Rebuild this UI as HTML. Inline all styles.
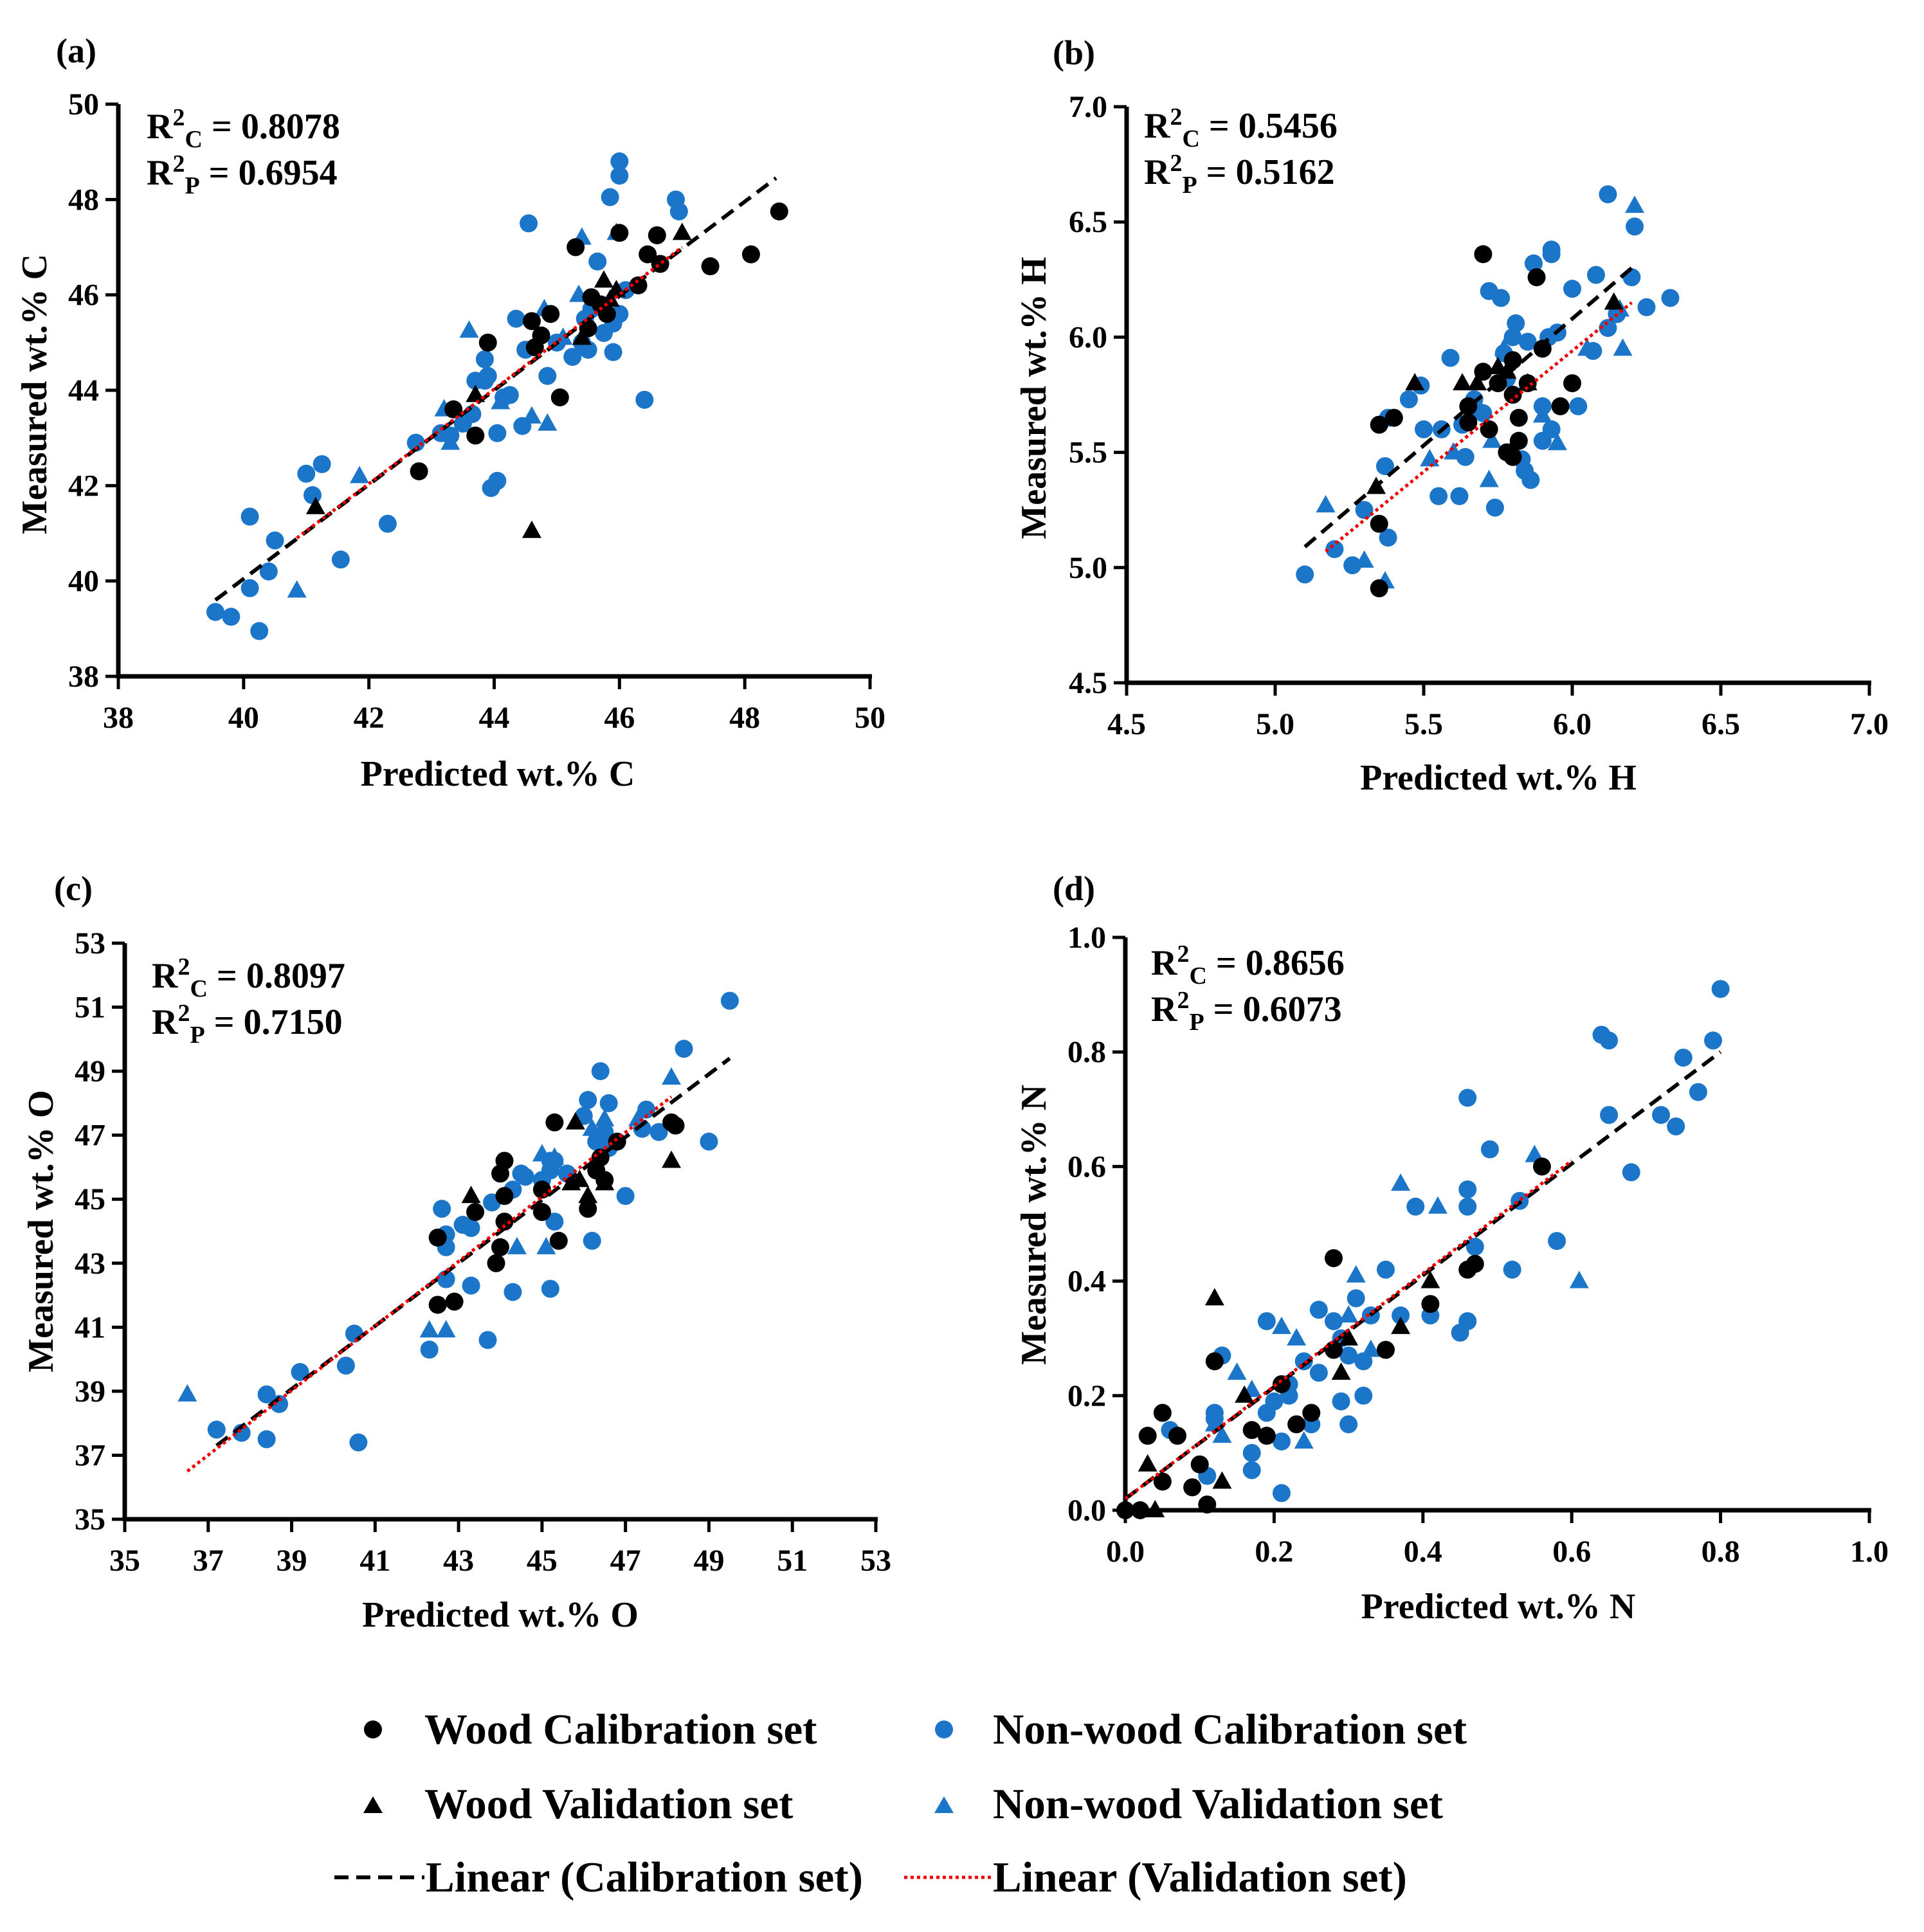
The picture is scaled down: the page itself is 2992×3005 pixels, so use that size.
<!DOCTYPE html>
<html><head><meta charset="utf-8">
<style>
html,body{margin:0;padding:0;background:#fff;}
svg{display:block;font-family:"Liberation Serif","Times New Roman",serif;font-weight:bold;}
</style></head>
<body>
<svg id="fig" width="2992" height="3005" viewBox="0 0 2992 3005" xmlns="http://www.w3.org/2000/svg">
<rect width="2992" height="3005" fill="#fff"/>
<g id="legend">
  <g>
    <circle cx="580" cy="2690" r="14" fill="#000"/>
    <text x="660" y="2712" font-size="67">Wood Calibration set</text>
  </g>
  <g>
    <circle cx="1468" cy="2690" r="14" fill="#1b75c9"/>
    <text x="1544" y="2712" font-size="67">Non-wood Calibration set</text>
  </g>
  <g>
    <polygon points="580,2794 595,2820 565,2820" fill="#000"/>
    <text x="660" y="2828" font-size="67">Wood Validation set</text>
  </g>
  <g>
    <polygon points="1468,2794 1483,2820 1453,2820" fill="#1b75c9"/>
    <text x="1544" y="2828" font-size="67">Non-wood Validation set</text>
  </g>
  <g>
    <line x1="520" y1="2920" x2="660" y2="2920" stroke="#000" stroke-width="6" stroke-dasharray="22,12"/>
    <text x="662" y="2942" font-size="67">Linear (Calibration set)</text>
  </g>
  <g>
    <line x1="1406" y1="2920" x2="1541" y2="2920" stroke="#e00" stroke-width="5" stroke-dasharray="5,5"/>
    <text x="1544" y="2942" font-size="67">Linear (Validation set)</text>
  </g>
</g>
</svg>
<script>
// ---------- Panel (a) Carbon ----------
const aTicksX = [38,40,42,44,46,48,50];
const aTicksY = [38,40,42,44,46,48,50];
const aWoodCal = [[48.55,47.75],[48.1,46.85],[47.45,46.6],[46.6,47.25],[46.45,46.85],[46.3,46.2],[46.65,46.65],[46.0,47.3],[45.3,47.0],[45.55,45.95],[45.8,45.6],[45.5,45.3],[44.6,45.45],[44.75,45.15],[44.9,45.6],[44.65,44.9],[45.05,43.85],[43.9,45.0],[43.35,43.6],[43.7,43.05],[42.8,42.3],[45.7,45.8]];
const aWoodVal = [[47.0,47.3],[45.75,46.3],[45.95,46.1],[45.4,45.1],[43.7,43.9],[41.15,41.55],[44.6,41.05],[45.85,45.9]];
const aNonCal = [[39.55,39.35],[39.8,39.25],[40.25,38.95],[40.1,39.85],[40.4,40.2],[40.5,40.85],[40.1,41.35],[41.0,42.25],[41.1,41.8],[41.25,42.45],[41.55,40.45],[42.3,41.2],[42.75,42.9],[43.15,43.1],[43.3,43.05],[43.5,43.3],[43.65,43.5],[43.7,44.2],[43.85,44.65],[43.85,44.2],[43.9,44.3],[44.05,43.1],[44.05,42.1],[43.95,41.95],[44.15,43.85],[44.25,43.9],[44.35,45.5],[44.5,44.85],[44.85,44.3],[44.45,43.25],[44.55,47.5],[45.0,45.0],[45.25,44.7],[45.4,45.0],[45.5,44.85],[45.45,45.5],[45.55,45.7],[45.75,45.2],[45.9,45.4],[45.9,44.8],[46.0,45.6],[46.1,46.1],[45.65,46.7],[45.85,48.05],[46.0,48.5],[46.0,48.8],[46.4,43.8],[46.9,48.0],[46.95,47.75]];
const aNonVal = [[40.85,39.8],[41.85,42.2],[43.2,43.6],[43.3,42.9],[43.6,45.25],[44.1,43.75],[44.6,43.45],[44.8,45.7],[44.85,43.3],[45.35,46.0],[45.4,47.2],[45.95,47.3],[45.1,45.1]];
const aCalLine = [[39.55,39.6],[48.5,48.45]];
const aValLine = [[40.85,40.9],[47.0,47.0]];

// ---------- Panel (b) Hydrogen ----------
const bTicksX = [4.5,5.0,5.5,6.0,6.5,7.0];
const bTicksY = [4.5,5.0,5.5,6.0,6.5,7.0];
const bWoodCal = [[5.35,4.91],[5.35,5.19],[5.35,5.62],[5.4,5.65],[5.7,6.36],[5.7,5.85],[5.75,5.8],[5.65,5.63],[5.65,5.7],[5.8,5.75],[5.8,5.9],[5.78,5.5],[5.8,5.48],[5.82,5.55],[5.82,5.65],[5.88,6.26],[5.9,5.95],[5.96,5.7],[6.0,5.8],[5.85,5.8],[5.72,5.6]];
const bWoodVal = [[5.34,5.35],[5.47,5.8],[5.63,5.8],[5.68,5.8],[5.75,5.87],[5.85,5.8],[6.14,6.15],[5.78,5.85]];
const bNonCal = [[5.1,4.97],[5.2,5.08],[5.26,5.01],[5.3,5.25],[5.38,5.13],[5.37,5.44],[5.38,5.65],[5.45,5.73],[5.49,5.79],[5.5,5.6],[5.55,5.31],[5.56,5.6],[5.59,5.91],[5.62,5.31],[5.63,5.62],[5.64,5.48],[5.67,5.73],[5.68,5.68],[5.7,5.67],[5.72,6.2],[5.74,5.26],[5.76,6.17],[5.77,5.93],[5.8,6.0],[5.81,6.06],[5.83,5.47],[5.84,5.42],[5.86,5.38],[5.87,6.32],[5.85,5.98],[5.9,5.55],[5.9,5.7],[5.92,6.0],[5.93,5.6],[5.93,6.36],[5.93,6.38],[6.0,6.21],[6.02,5.7],[6.07,5.94],[6.08,6.27],[6.12,6.62],[6.12,6.04],[6.15,6.1],[6.2,6.26],[6.21,6.48],[6.25,6.13],[6.33,6.17],[5.78,5.82],[5.95,6.02]];
const bNonVal = [[5.17,5.27],[5.3,5.03],[5.37,4.94],[5.52,5.47],[5.6,5.5],[5.72,5.38],[5.73,5.55],[5.77,5.95],[5.8,5.52],[5.9,5.66],[5.95,5.54],[6.05,5.95],[6.17,5.95],[6.21,6.57],[6.16,6.12]];
const bCalLine = [[5.1,5.09],[6.2,6.3]];
const bValLine = [[5.17,5.07],[6.2,6.15]];

// ---------- Panel (c) Oxygen ----------
const cTicksX = [35,37,39,41,43,45,47,49,51,53];
const cTicksY = [35,37,39,41,43,45,47,49,51,53];
const cWoodCal = [[42.5,41.7],[42.5,43.8],[42.9,41.8],[43.4,44.6],[43.9,43.0],[44.0,45.8],[44.1,46.2],[44.1,44.3],[44.0,43.5],[44.1,45.1],[45.0,45.3],[45.0,44.6],[45.3,47.4],[45.4,43.7],[46.1,44.7],[46.3,45.9],[46.4,46.3],[46.8,46.8],[48.1,47.4],[48.2,47.3],[46.5,45.6]];
const cWoodVal = [[43.3,45.1],[45.7,45.5],[45.8,47.4],[46.1,45.1],[46.5,45.5],[48.1,46.2],[45.9,45.6]];
const cNonCal = [[37.2,37.8],[37.8,37.7],[38.4,38.9],[38.4,37.5],[38.7,38.6],[39.2,39.6],[40.3,39.8],[40.5,40.8],[40.6,37.4],[42.3,40.3],[42.6,44.7],[42.7,43.5],[42.7,42.5],[42.7,43.9],[43.1,44.2],[43.3,42.3],[43.3,44.1],[43.7,40.6],[43.8,44.9],[44.3,42.1],[44.3,45.3],[44.5,45.8],[44.6,45.7],[45.0,45.6],[45.2,45.9],[45.2,42.2],[45.3,44.3],[45.2,46.2],[45.6,45.8],[46.1,48.1],[46.2,43.7],[46.3,46.8],[46.4,49.0],[46.5,47.1],[46.6,48.0],[46.6,46.6],[47.0,45.1],[47.4,47.2],[47.5,47.8],[47.8,47.1],[48.4,49.7],[49.0,46.8],[49.5,51.2],[46.0,47.6],[45.3,46.2]];
const cNonVal = [[36.5,38.9],[42.3,40.9],[42.7,40.9],[44.4,43.5],[45.1,43.5],[45.0,46.4],[46.2,47.2],[46.5,47.5],[47.3,47.5],[48.1,48.8],[45.3,46.3]];
const cCalLine = [[37.2,37.3],[49.5,49.4]];
const cValLine = [[36.5,36.5],[48.1,48.2]];

// ---------- Panel (d) Nitrogen ----------
const dTicksX = [0.0,0.2,0.4,0.6,0.8,1.0];
const dTicksY = [0.0,0.2,0.4,0.6,0.8,1.0];
const dWoodCal = [[0.0,0.0],[0.02,0.0],[0.03,0.13],[0.05,0.05],[0.05,0.17],[0.07,0.13],[0.09,0.04],[0.1,0.08],[0.11,0.01],[0.12,0.26],[0.17,0.14],[0.19,0.13],[0.21,0.22],[0.23,0.15],[0.25,0.17],[0.28,0.28],[0.28,0.44],[0.35,0.28],[0.41,0.36],[0.46,0.42],[0.47,0.43],[0.56,0.6]];
const dWoodVal = [[0.03,0.08],[0.04,0.0],[0.12,0.37],[0.13,0.05],[0.16,0.2],[0.29,0.24],[0.37,0.32],[0.41,0.4],[0.3,0.3]];
const dNonCal = [[0.06,0.14],[0.11,0.06],[0.12,0.16],[0.12,0.17],[0.13,0.27],[0.17,0.1],[0.17,0.07],[0.19,0.33],[0.19,0.17],[0.2,0.19],[0.21,0.03],[0.21,0.12],[0.22,0.22],[0.22,0.2],[0.24,0.26],[0.25,0.15],[0.26,0.24],[0.26,0.35],[0.28,0.33],[0.29,0.19],[0.29,0.3],[0.3,0.15],[0.3,0.27],[0.31,0.37],[0.32,0.2],[0.32,0.26],[0.33,0.34],[0.35,0.42],[0.37,0.34],[0.39,0.53],[0.41,0.34],[0.45,0.31],[0.46,0.56],[0.46,0.33],[0.46,0.72],[0.47,0.46],[0.49,0.63],[0.52,0.42],[0.53,0.54],[0.58,0.47],[0.64,0.83],[0.65,0.69],[0.65,0.82],[0.68,0.59],[0.72,0.69],[0.74,0.67],[0.75,0.79],[0.77,0.73],[0.79,0.82],[0.8,0.91],[0.46,0.53]];
const dNonVal = [[0.12,0.15],[0.13,0.13],[0.15,0.24],[0.17,0.21],[0.21,0.32],[0.23,0.3],[0.24,0.12],[0.3,0.34],[0.31,0.41],[0.37,0.57],[0.42,0.53],[0.55,0.62],[0.61,0.4],[0.33,0.28]];
const dCalLine = [[0.0,0.02],[0.8,0.8]];
const dValLine = [[0.0,0.02],[0.6,0.61]];

const NS = "http://www.w3.org/2000/svg";
const svg = document.getElementById("fig");
const BLUE = "#1b75c9";

function mk(tag, attrs, parent) {
  const el = document.createElementNS(NS, tag);
  for (const k in attrs) el.setAttribute(k, attrs[k]);
  parent.appendChild(el);
  return el;
}

function panel(cfg) {
  const g = mk("g", {}, svg);
  
  
  const xs = v => cfg.x0 + (v - cfg.xmin) / (cfg.xmax - cfg.xmin) * (cfg.x1 - cfg.x0);
  const ys = v => cfg.y0 - (v - cfg.ymin) / (cfg.ymax - cfg.ymin) * (cfg.y0 - cfg.y1);

  const ax = mk("g", {}, g);
  
  
  mk("line", {x1: cfg.x0, y1: cfg.y0, x2: cfg.x1 + 3, y2: cfg.y0, stroke: "#000", "stroke-width": 7}, ax);
  mk("line", {x1: cfg.x0, y1: cfg.y0 + 3, x2: cfg.x0, y2: cfg.y1, stroke: "#000", "stroke-width": 7}, ax);
  cfg.tx.forEach(t => {
    const x = xs(t);
    mk("line", {x1: x, y1: cfg.y0, x2: x, y2: cfg.y0 + 20, stroke: "#000", "stroke-width": 5}, ax);
    const tl = mk("text", {x: x, y: cfg.y0 + 80, "font-size": 48, "text-anchor": "middle"}, ax);
    
    
    tl.textContent = t.toFixed(cfg.dec);
  });
  cfg.ty.forEach(t => {
    const y = ys(t);
    mk("line", {x1: cfg.x0 - 20, y1: y, x2: cfg.x0, y2: y, stroke: "#000", "stroke-width": 5}, ax);
    const tl = mk("text", {x: cfg.x0 - 30, y: y + 16, "font-size": 48, "text-anchor": "end"}, ax);
    
    
    tl.textContent = t.toFixed(cfg.dec);
  });
  const xt = mk("text", {x: cfg.xtx, y: cfg.xty, "font-size": 56, "text-anchor": "middle"}, g);
  
  
  xt.textContent = cfg.xtitle;
  const yt = mk("text", {x: 0, y: 0, "font-size": 56, "text-anchor": "middle", transform: `translate(${cfg.ytx},${cfg.yty}) rotate(-90)`}, g);
  
  
  yt.textContent = cfg.ytitle;
  const pl = mk("text", {x: cfg.lx, y: cfg.ly, "font-size": 54}, g);
  
  
  pl.textContent = "(" + cfg.id + ")";

  [["C", cfg.r2c, 0], ["P", cfg.r2p, 72]].forEach(([s, v, dy]) => {
    const t = mk("text", {x: cfg.rx, y: cfg.ry + dy, "font-size": 56}, g);
    
    
    t.innerHTML = `R<tspan font-size="38" dy="-20">2</tspan><tspan font-size="38" dy="34">${s}</tspan><tspan dy="-14"> = ${v}</tspan>`;
  });

  const mg = mk("g", {}, g);
  
  
  function circles(arr, col, name) {
    arr.forEach(p => {
      const c = mk("circle", {cx: xs(p[0]), cy: ys(p[1]), r: 14, fill: col}, mg);
      
      
    });
  }
  function tris(arr, col, name) {
    arr.forEach(p => {
      const x = xs(p[0]), y = ys(p[1]);
      const t = mk("polygon", {points: `${x},${y - 16} ${x + 15},${y + 11} ${x - 15},${y + 11}`, fill: col}, mg);
      
      
    });
  }
  circles(cfg.nc, BLUE, 'nonwood-calibration-point');
  tris(cfg.nv, BLUE, 'nonwood-validation-point');
  circles(cfg.wc, "#000", 'wood-calibration-point');
  tris(cfg.wv, "#000", 'wood-validation-point');

  const cl = mk("line", {x1: xs(cfg.cal[0][0]), y1: ys(cfg.cal[0][1]), x2: xs(cfg.cal[1][0]), y2: ys(cfg.cal[1][1]), stroke: "#000", "stroke-width": 6, "stroke-dasharray": "22,12"}, g);
  
  
  const vl = mk("line", {x1: xs(cfg.val[0][0]), y1: ys(cfg.val[0][1]), x2: xs(cfg.val[1][0]), y2: ys(cfg.val[1][1]), stroke: "#e00", "stroke-width": 5, "stroke-dasharray": "5,5"}, g);
  
  
}

panel({id: "a", x0: 184, x1: 1353, y0: 1052, y1: 162, xmin: 38, xmax: 50, ymin: 38, ymax: 50, dec: 0,
  tx: aTicksX, ty: aTicksY, wc: aWoodCal, wv: aWoodVal, nc: aNonCal, nv: aNonVal, cal: aCalLine, val: aValLine,
  xtitle: "Predicted wt.% C", ytitle: "Measured wt.% C", xtx: 774, xty: 1222, ytx: 72, yty: 613,
  lx: 87, ly: 97, rx: 228, ry: 215, r2c: "0.8078", r2p: "0.6954"});
panel({id: "b", x0: 1752, x1: 2907, y0: 1062, y1: 166, xmin: 4.5, xmax: 7.0, ymin: 4.5, ymax: 7.0, dec: 1,
  tx: bTicksX, ty: bTicksY, wc: bWoodCal, wv: bWoodVal, nc: bNonCal, nv: bNonVal, cal: bCalLine, val: bValLine,
  xtitle: "Predicted wt.% H", ytitle: "Measured wt.% H", xtx: 2330, xty: 1228, ytx: 1626, yty: 619,
  lx: 1637, ly: 100, rx: 1779, ry: 214, r2c: "0.5456", r2p: "0.5162"});
panel({id: "c", x0: 194, x1: 1362, y0: 2363, y1: 1467, xmin: 35, xmax: 53, ymin: 35, ymax: 53, dec: 0,
  tx: cTicksX, ty: cTicksY, wc: cWoodCal, wv: cWoodVal, nc: cNonCal, nv: cNonVal, cal: cCalLine, val: cValLine,
  xtitle: "Predicted wt.% O", ytitle: "Measured wt.% O", xtx: 778, xty: 2530, ytx: 82, yty: 1915,
  lx: 84, ly: 1400, rx: 236, ry: 1536, r2c: "0.8097", r2p: "0.7150"});
panel({id: "d", x0: 1750, x1: 2907, y0: 2349, y1: 1458, xmin: 0, xmax: 1, ymin: 0, ymax: 1, dec: 1,
  tx: dTicksX, ty: dTicksY, wc: dWoodCal, wv: dWoodVal, nc: dNonCal, nv: dNonVal, cal: dCalLine, val: dValLine,
  xtitle: "Predicted wt.% N", ytitle: "Measured wt.% N", xtx: 2330, xty: 2517, ytx: 1626, yty: 1905,
  lx: 1637, ly: 1400, rx: 1790, ry: 1516, r2c: "0.8656", r2p: "0.6073"});
</script>
</body></html>
